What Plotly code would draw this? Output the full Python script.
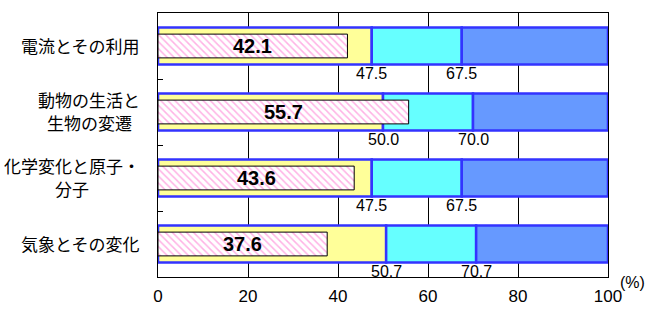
import plotly.graph_objects as go

# Survey items (top to bottom) and their scores
categories = ["電流とその利用", "動物の生活と<br>生物の変遷", "化学変化と原子・<br>分子", "気象とその変化"]
correct_rate = [42.1, 55.7, 43.6, 37.6]
boundary_low = [47.5, 50.0, 47.5, 50.7]
boundary_high = [67.5, 70.0, 67.5, 70.7]
x_ticks = [0, 20, 40, 60, 80, 100]

pos = list(range(len(categories)))
outline = dict(color="#3333FF", width=2.5)

fig = go.Figure()

# Background bands: low / middle / high ranges
fig.add_trace(go.Bar(
    y=pos, x=boundary_low, base=[0] * len(pos), orientation="h", width=0.56,
    marker=dict(color="#FFFF99", line=outline), hoverinfo="skip", showlegend=False,
))
fig.add_trace(go.Bar(
    y=pos, x=[h - l for h, l in zip(boundary_high, boundary_low)], base=boundary_low,
    orientation="h", width=0.56,
    marker=dict(color="#66FFFF", line=outline), hoverinfo="skip", showlegend=False,
))
fig.add_trace(go.Bar(
    y=pos, x=[100 - h for h in boundary_high], base=boundary_high,
    orientation="h", width=0.56,
    marker=dict(color="#6699FF", line=outline), hoverinfo="skip", showlegend=False,
))

# Correct-answer rate (hatched bar)
fig.add_trace(go.Bar(
    y=pos, x=correct_rate, base=[0] * len(pos), orientation="h", width=0.36,
    marker=dict(
        color="white",
        line=dict(color="black", width=1),
        pattern=dict(shape="\\", fgcolor="#FF66CC", bgcolor="white", size=5, solidity=0.3),
    ),
    hoverinfo="skip", showlegend=False,
))

annotations = []
for i, v in enumerate(correct_rate):
    annotations.append(dict(
        x=v / 2, y=i, xref="x", yref="y", text=f"<b>{v:.1f}</b>", showarrow=False,
        font=dict(family="Liberation Sans", size=20, color="black"),
        xanchor="center", yanchor="middle",
    ))
for i, (lo, hi) in enumerate(zip(boundary_low, boundary_high)):
    for b in (lo, hi):
        annotations.append(dict(
            x=b, y=i + 0.415, xref="x", yref="y", text=f"{b:.1f}", showarrow=False,
            font=dict(family="Liberation Sans", size=16, color="black"),
            xanchor="center", yanchor="middle",
        ))

# Category labels: each line placed separately so the lines are centred on each other
line_gap = 23
for i, c in enumerate(categories):
    lines = c.split("<br>")
    n = len(lines)
    widest = max(len(s) for s in lines)
    for k, s in enumerate(lines):
        offset = (k - (n - 1) / 2) * line_gap
        # centre shorter lines under the widest one
        pad = (widest - len(s)) * 17 / 2
        annotations.append(dict(
            x=0, y=i, xref="paper", yref="y", text=s, showarrow=False,
            xanchor="right", yanchor="middle", xshift=-16 - pad, yshift=-offset + 1,
            font=dict(family="Noto Sans CJK JP", size=17, color="black"),
        ))

annotations.append(dict(
    x=1, y=0, xref="paper", yref="paper", text="(%)", showarrow=False,
    xanchor="left", yanchor="middle", xshift=10, yshift=-5,
    font=dict(family="Liberation Sans", size=16, color="black"),
))

fig.update_layout(
    width=649, height=328,
    margin=dict(l=158, r=41, t=13, b=51),
    paper_bgcolor="white", plot_bgcolor="white",
    barmode="overlay",
    annotations=annotations,
    xaxis=dict(
        range=[0, 100], tickvals=x_ticks, ticktext=[str(t) for t in x_ticks],
        showgrid=True, gridcolor="black", gridwidth=1, zeroline=False,
        showline=True, linecolor="black", linewidth=1, mirror=True,
        ticks="", ticklabelstandoff=4,
        tickfont=dict(family="Liberation Sans", size=17, color="black"),
        fixedrange=True,
    ),
    yaxis=dict(
        range=[3.5, -0.5], tickvals=[0.5, 1.5, 2.5], showticklabels=False,
        ticks="inside", ticklen=5, tickcolor="black",
        showgrid=False, zeroline=False,
        showline=True, linecolor="black", linewidth=1, mirror=True,
        fixedrange=True,
    ),
)

fig.write_html("out.html")
